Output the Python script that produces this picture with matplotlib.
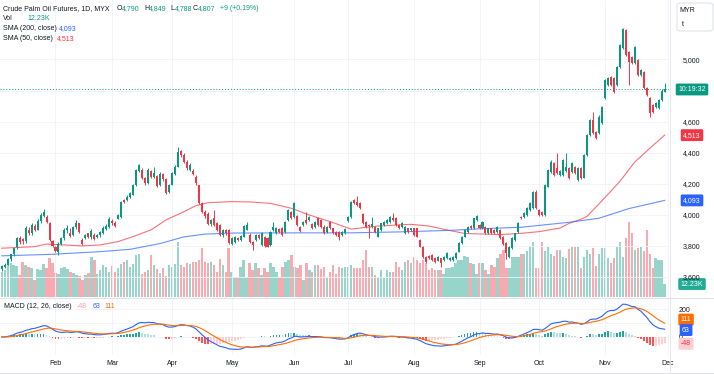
import numpy as np
import pandas as pd
import matplotlib
matplotlib.use("Agg")
import matplotlib.pyplot as plt
from matplotlib.transforms import blended_transform_factory
from matplotlib.patches import FancyBboxPatch
from matplotlib.lines import Line2D

plt.rcParams['font.family'] = ['Liberation Sans', 'DejaVu Sans']

# Bursa Malaysia trading calendar 2024 (visible window)
holidays = ['2024-01-25', '2024-02-01', '2024-02-12', '2024-03-28', '2024-04-10',
            '2024-04-11', '2024-05-01', '2024-05-22', '2024-06-03', '2024-06-17',
            '2024-07-08', '2024-09-16', '2024-10-31']

opens = [3650, 3665, 3680, 3715, 3745, 3790, 3850, 3845, 3830, 3905,
         3880, 3930, 3905, 3960, 3995, 3985, 3950, 3830, 3790, 3760,
         3815, 3850, 3900, 3885, 3870, 3920, 3945, 3840, 3850, 3880,
         3855, 3870, 3855, 3870, 3880, 3910, 3920, 3960,
         3946, 3975, 3985, 4096, 4096, 4117, 4130, 4192, 4285, 4289,
         4235, 4203, 4280, 4246, 4250, 4190, 4260, 4232, 4150, 4195,
         4262, 4310, 4410, 4385, 4342, 4290, 4280, 4246, 4190, 4074,
         4020, 4005, 3938, 3978, 3946, 3935, 3870, 3900, 3903, 3815,
         3827, 3849, 3838, 3860, 3905, 3870, 3827, 3838, 3870, 3806,
         3860, 3849, 3806, 3900, 3881, 3908, 3913, 3892, 3967, 4020,
         3988, 3990, 3924, 3935, 3967, 3967, 3940, 3924, 3978, 3967,
         3924, 3892, 3956, 3913, 3892, 3892, 3870, 3885, 3960,
         3988, 4096, 4085, 4074, 4005, 3956, 3935, 3924, 3924, 3860,
         3903, 3935, 3946, 3956, 3978, 3978, 3935, 3924, 3881, 3913,
         3903, 3913, 3913, 3838, 3791, 3731, 3735, 3742, 3720, 3705,
         3720, 3709, 3720, 3709, 3709, 3720, 3763, 3817,
         3860, 3892, 3928, 3913, 3965, 3935, 3913, 3924, 3881, 3913,
         3903, 3892, 3903, 3860, 3817, 3731, 3785, 3838, 3892, 3988,
         3988, 3999, 4031, 4042, 4149,
         4031, 4020, 3999, 4181, 4278, 4332, 4300, 4257, 4257, 4280,
         4300, 4278, 4310, 4224, 4300, 4240, 4385, 4514, 4611, 4535, 4525, 4589,
         4750, 4836, 4889, 4879, 4836, 4954, 5072, 5190, 5050, 5018, 4976,
         4997, 4900, 4921, 4815, 4750, 4707, 4696, 4686, 4739, 4790]

highs = [3680, 3690, 3725, 3750, 3795, 3860, 3865, 3850, 3930, 3920,
         3945, 3940, 3970, 4010, 4035, 4000, 3955, 3835, 3800, 3825,
         3860, 3915, 3935, 3915, 3930, 3965, 3950, 3850, 3875, 3885,
         3910, 3880, 3875, 3895, 3925, 3940, 3985, 3975,
         3960, 4005, 4090, 4102, 4125, 4148, 4200, 4295, 4330, 4300,
         4245, 4300, 4290, 4310, 4258, 4275, 4270, 4240, 4200, 4275,
         4320, 4439, 4420, 4395, 4350, 4335, 4295, 4255, 4195, 4080,
         4030, 4015, 3975, 4031, 3955, 3940, 3910, 3910, 3910, 3855,
         3866, 3856, 3870, 3935, 3956, 3880, 3832, 3878, 3876, 3888,
         3866, 3855, 3898, 3956, 3920, 3912, 3920, 3962, 4040, 4025,
         4085, 4000, 3930, 3962, 4020, 3995, 3946, 3962, 3985, 3972,
         3935, 3930, 3962, 3918, 3898, 3895, 3898, 3918, 3990,
         4090, 4100, 4121, 4080, 4010, 3962, 3940, 3988, 3930, 3918,
         3950, 3962, 3972, 3995, 4014, 3985, 3940, 3952, 3930, 3918,
         3918, 3918, 3918, 3845, 3798, 3738, 3742, 3748, 3726, 3733,
         3725, 3737, 3758, 3730, 3736, 3758, 3822, 3866,
         3908, 3930, 3935, 3982, 3999, 3940, 3962, 3930, 3918, 3918,
         3908, 3930, 3908, 3865, 3822, 3800, 3855, 3886, 3952, 3995,
         4015, 4048, 4080, 4155, 4160,
         4040, 4025, 4200, 4295, 4350, 4338, 4396, 4290, 4360, 4396,
         4306, 4338, 4316, 4306, 4306, 4392, 4520, 4618, 4664, 4540, 4640, 4702,
         4875, 4886, 4895, 4885, 4960, 5100, 5201, 5196, 5056, 5024, 5088,
         5003, 4938, 4927, 4820, 4756, 4712, 4724, 4745, 4810, 4849]

lows = [3640, 3655, 3675, 3705, 3735, 3780, 3815, 3815, 3820, 3870,
        3870, 3895, 3900, 3950, 3985, 3950, 3830, 3790, 3760, 3740,
        3805, 3840, 3885, 3855, 3865, 3910, 3880, 3805, 3845, 3850,
        3845, 3835, 3850, 3860, 3875, 3905, 3915, 3935,
        3920, 3970, 3978, 4075, 4088, 4110, 4125, 4185, 4275, 4228,
        4195, 4198, 4240, 4240, 4178, 4185, 4220, 4132, 4140, 4190,
        4255, 4305, 4375, 4335, 4290, 4280, 4255, 4195, 4068, 4010,
        3980, 3932, 3930, 3928, 3895, 3865, 3860, 3868, 3812, 3805,
        3820, 3832, 3833, 3855, 3900, 3820, 3774, 3830, 3842, 3800,
        3795, 3790, 3800, 3895, 3875, 3885, 3865, 3885, 3960, 3970,
        3982, 3930, 3890, 3928, 3940, 3960, 3908, 3918, 3930, 3918,
        3875, 3885, 3908, 3875, 3865, 3838, 3865, 3878, 3955,
        3982, 4068, 4058, 4035, 3940, 3918, 3849, 3918, 3885, 3855,
        3898, 3930, 3940, 3950, 3962, 3930, 3908, 3918, 3875, 3886,
        3898, 3865, 3855, 3790, 3720, 3692, 3714, 3704, 3692, 3700,
        3665, 3704, 3715, 3704, 3704, 3715, 3758, 3812,
        3855, 3886, 3908, 3908, 3960, 3908, 3908, 3876, 3876, 3876,
        3878, 3886, 3845, 3806, 3714, 3725, 3780, 3832, 3886, 3972,
        3982, 3994, 4026, 4036, 4036,
        3994, 3992, 3994, 4176, 4272, 4250, 4260, 4250, 4250, 4274,
        4228, 4272, 4260, 4218, 4228, 4235, 4380, 4508, 4518, 4486, 4518, 4583,
        4744, 4830, 4830, 4786, 4830, 4948, 5066, 5022, 4836, 4970, 4970,
        4894, 4894, 4809, 4765, 4632, 4658, 4690, 4680, 4733, 4788]

closes = [3670, 3680, 3715, 3745, 3785, 3850, 3825, 3830, 3915, 3880,
          3935, 3905, 3960, 4000, 4020, 3955, 3840, 3800, 3770, 3815,
          3850, 3905, 3915, 3865, 3920, 3945, 3890, 3815, 3870, 3860,
          3895, 3845, 3870, 3890, 3915, 3930, 3970, 3945,
          3925, 3999, 4080, 4085, 4117, 4139, 4192, 4289, 4321, 4235,
          4203, 4289, 4246, 4270, 4185, 4265, 4228, 4140, 4192, 4267,
          4310, 4407, 4385, 4342, 4300, 4321, 4262, 4203, 4074, 4020,
          3990, 3940, 3967, 3935, 3903, 3870, 3903, 3880, 3817, 3849,
          3860, 3838, 3864, 3928, 3935, 3827, 3806, 3870, 3849, 3881,
          3800, 3795, 3892, 3920, 3913, 3890, 3870, 3956, 4031, 3978,
          4074, 3935, 3895, 3956, 3946, 3988, 3913, 3956, 3935, 3924,
          3881, 3924, 3913, 3881, 3870, 3860, 3892, 3910, 3985,
          4085, 4074, 4063, 4042, 3946, 3924, 3925, 3940, 3892, 3913,
          3946, 3956, 3967, 3988, 3967, 3935, 3913, 3946, 3924, 3892,
          3913, 3870, 3860, 3795, 3727, 3699, 3720, 3709, 3699, 3727,
          3688, 3731, 3752, 3725, 3731, 3752, 3817, 3860,
          3903, 3924, 3913, 3978, 3990, 3913, 3956, 3881, 3913, 3881,
          3883, 3924, 3849, 3812, 3752, 3795, 3849, 3881, 3946, 3978,
          4010, 4042, 4074, 4149, 4042,
          3999, 3999, 4192, 4289, 4342, 4257, 4267, 4280, 4353, 4310,
          4235, 4332, 4267, 4300, 4235, 4385, 4514, 4611, 4525, 4493, 4632, 4696,
          4868, 4879, 4836, 4793, 4954, 5093, 5194, 5029, 4986, 4976, 5082,
          4900, 4932, 4815, 4771, 4654, 4664, 4718, 4739, 4798, 4807]

# volume in thousands of lots
volumes = [24, 25, 31, 32, 30, 29, 21, 33, 30, 28,
           27, 16, 26, 25, 31, 27, 37, 32, 23, 22,
           27, 28, 26, 24, 23, 21, 20, 16, 21, 23,
           38, 35, 22, 25, 30, 28, 24, 29, 24, 27,
           31, 33, 35, 28, 31, 40, 41, 22, 24, 25,
           40, 30, 26, 23, 27, 20, 30, 28, 31, 52,
           30, 28, 32, 31, 33, 33, 35, 46, 33, 32,
           33, 30, 24, 36, 30, 24, 46, 24, 19, 19,
           28, 35, 19, 32, 25, 32, 27, 21, 27, 24,
           32, 28, 24, 19, 28, 33, 35, 40, 28, 27,
           30, 16, 32, 25, 24, 30, 30, 26, 28, 19,
           24, 30, 22, 28, 27, 28, 28, 30, 27, 27,
           27, 35, 44, 28, 28, 21, 19, 25, 18, 25,
           24, 24, 33, 28, 25, 33, 35, 32, 38, 35,
           32, 35, 32, 25, 27, 25, 25, 25, 22, 27,
           27, 28, 32, 35, 35, 39, 38, 32, 31, 22,
           32, 32, 25, 22, 30, 28, 37, 41, 44, 27,
           27, 38, 38, 38, 41, 41, 43, 48, 52, 27,
           27, 52, 43, 47, 41, 39, 44, 44, 38, 37,
           45, 47, 47, 47, 27, 38, 44, 41, 46, 29,
           41, 46, 46, 36.5, 32, 36.5, 47.5, 52, 38, 56,
           71, 60, 44, 46, 47.5, 43, 63, 41, 27, 36.5,
           35, 35, 12.23]

# moving averages (bar index -> value)
sma200_idx = [0, 17, 33, 43, 53, 61, 68, 78, 100, 117, 133, 150, 160, 174, 190, 200, 210, 222]
sma200_val = [3736, 3746, 3763, 3778, 3815, 3858, 3876, 3883, 3884, 3884, 3890, 3900, 3910,
              3920, 3952, 3978, 4040, 4093]
sma50_idx = [0, 11, 15, 27, 33, 39, 44, 50, 55, 61, 65, 69, 77, 83, 90, 97, 103, 110, 117,
             126, 137, 143, 149, 155, 167, 174, 180, 187, 190, 194, 196, 201, 207, 212, 218, 222]
sma50_val = [3785, 3795, 3812, 3800, 3806, 3828, 3860, 3903, 3967, 4020, 4059, 4078, 4085,
             4083, 4074, 4042, 3999, 3956, 3908, 3928, 3939, 3928, 3903, 3880, 3873, 3881,
             3892, 3915, 3945, 3972, 3990, 4090, 4215, 4340, 4445, 4513]

# last MACD readings shown by the chart
macd_last = 63
signal_last = 111
hist_last = -48

price_ticks = [3600, 3800, 4000, 4200, 4400, 4600, 5000]
macd_ticks = [0, 200]

UP = '#089981'
DOWN = '#f23645'
BLUE = '#2962ff'
ORANGE = '#ff6d00'
TXT = '#131722'
GRID = '#f0f3fa'
BORDER = '#e0e3eb'

W, H = 714, 374

cal = pd.offsets.CustomBusinessDay(holidays=holidays)
dates = pd.date_range('2024-01-05', '2024-11-29', freq=cal)
o = np.array(opens, float)
h = np.array(highs, float)
l = np.array(lows, float)
c = np.array(closes, float)
v = np.array(volumes, float)
x = np.arange(len(c))

# month ticks at first trading day of each month
month_pos, month_lab = [], []
for i in range(1, len(dates)):
    if dates[i].month != dates[i - 1].month:
        month_pos.append(i)
        month_lab.append(dates[i].strftime('%b'))
month_pos.append(len(dates))
month_lab.append('Dec')


def frac(x0, y0, x1, y1):
    return [x0 / W, 1 - y1 / H, (x1 - x0) / W, (y1 - y0) / H]


fig = plt.figure(figsize=(W / 100, H / 100), dpi=100)
ax = fig.add_axes(frac(0, 0, 669, 297))
axv = ax.twinx()
axm = fig.add_axes(frac(0, 298, 669, 355), sharex=ax)
ax.set_zorder(axv.get_zorder() + 1)
ax.patch.set_visible(False)

up = c >= o
col = np.where(up, UP, DOWN)
vcol = [(8 / 255, 153 / 255, 129 / 255, 0.42) if u else (242 / 255, 54 / 255, 69 / 255, 0.42) for u in up]

# volume
axv.bar(x, v, width=0.8, color=vcol, linewidth=0)
axv.set_ylim(0, 280)
axv.set_yticks([])
axv.tick_params(right=False, labelright=False)

# candles
ax.vlines(x, l, h, colors=col, linewidth=0.7, zorder=3)
ax.bar(x, np.maximum(np.abs(c - o), 2), bottom=np.minimum(o, c), width=0.68,
       color=col, linewidth=0, zorder=4)

ax.plot(sma50_idx, sma50_val, color=DOWN, lw=0.8, alpha=0.7, zorder=2)
ax.plot(sma200_idx, sma200_val, color=BLUE, lw=0.8, alpha=0.7, zorder=2)
ax.axhline(c[-1], color=UP, lw=0.7, ls=(0, (1, 2)), zorder=1)

ax.set_xlim(-0.586, 223.46)
ax.set_ylim(3471, 5383)
ax.set_yticks(price_ticks)
ax.set_yticklabels([f'{t:,}' for t in price_ticks])
ax.yaxis.tick_right()
ax.tick_params(axis='y', length=0, pad=10, labelsize=5, labelcolor=TXT)
ax.tick_params(axis='x', length=0, labelbottom=False)
ax.set_xticks(month_pos)
ax.grid(True, color=GRID, lw=0.6)
ax.axhline(4800, color=GRID, lw=0.6, zorder=0)
ax.set_axisbelow(True)
for a in (ax, axv, axm):
    for s in a.spines.values():
        s.set_visible(False)

# MACD
cs = pd.Series(c)
macd = cs.ewm(span=12, adjust=False).mean() - cs.ewm(span=26, adjust=False).mean()
signal = macd.ewm(span=9, adjust=False).mean()
hist = (macd - signal).values
hcol = []
for i, hv in enumerate(hist):
    prev = hist[i - 1] if i > 0 else 0
    if hv >= 0:
        hcol.append('#26a69a' if hv > prev else '#b2dfdb')
    else:
        hcol.append('#ff5252' if hv < prev else '#ffcdd2')
axm.bar(x, hist, width=0.6, color=hcol, linewidth=0)
axm.plot(x, macd, color=BLUE, lw=0.8)
axm.plot(x, signal, color=ORANGE, lw=0.8)
axm.set_ylim(-128.6, 278.6)
axm.set_yticks(macd_ticks)
axm.yaxis.tick_right()
axm.tick_params(axis='y', length=0, pad=7, labelsize=5, labelcolor=TXT)
axm.set_xticks(month_pos)
axm.set_xticklabels(month_lab)
axm.tick_params(axis='x', length=0, pad=3.5, labelsize=5, labelcolor=TXT)
axm.grid(True, color=GRID, lw=0.6)
axm.axhline(100, color=GRID, lw=0.6, zorder=0)
axm.set_axisbelow(True)


# price-scale labels
def tag(a, yval, text, fc, tc='white', xa=1.0344):
    tr = blended_transform_factory(a.transAxes, a.transData)
    a.text(xa, yval, text, transform=tr, ha='center', va='center', fontsize=5,
           color=tc, clip_on=False, zorder=20,
           bbox=dict(boxstyle='round,pad=0.35,rounding_size=0.2', fc=fc, ec='none'))


tag(ax, c[-1], '10:19:32', UP)
tag(ax, sma50_val[-1], f'{sma50_val[-1]:,}', DOWN)
tag(ax, sma200_val[-1], f'{sma200_val[-1]:,}', BLUE)
tag(axv, v[-1], f'{v[-1]:.2f}K', '#22ab94')

# keep the two MACD line labels from stacking on top of each other
box_units = 10.5 / 57 * (278.6 + 128.6)
sig_y, macd_y = signal_last, macd_last
if sig_y - macd_y < box_units:
    mid = (sig_y + macd_y) / 2
    sig_y, macd_y = mid + box_units / 2, mid - box_units / 2
tag(axm, sig_y, f'{signal_last}', ORANGE, xa=1.0255)
tag(axm, macd_y, f'{macd_last}', BLUE, xa=1.0255)
tag(axm, hist_last, f'{hist_last}', '#ffcdd2', tc='#e53935', xa=1.0255)


# legend text rows
def put(px, py, s, color=TXT):
    fig.text(px / W, 1 - py / H, s, fontsize=5, color=color, va='center', ha='left')


put(3, 9, 'Crude Palm Oil Futures, 1D, MYX')
for lab, val, px in [('O', o[-1], 117), ('H', h[-1], 144), ('L', l[-1], 170), ('C', c[-1], 193)]:
    put(px, 9, lab)
    put(px + 5.2, 9, f'{val:,.0f}', UP)
chg = c[-1] - c[-2]
put(220, 9, f'+{chg:.0f} (+{chg / c[-2] * 100:.2f}%)', UP)
put(3, 19, 'Vol')
put(27, 19, f'{v[-1]:.2f}K', UP)
put(3, 29, 'SMA (200, close)')
put(59, 29, f'{sma200_val[-1]:,}', BLUE)
put(3, 39, 'SMA (50, close)')
put(57, 39, f'{sma50_val[-1]:,}', DOWN)
put(3.5, 307, 'MACD (12, 26, close)')
put(77, 307, f'{hist_last}', '#f5a3a8')
put(92.5, 307, f'{macd_last}', BLUE)
put(104.5, 307, f'{signal_last}', ORANGE)

# currency box
fig.add_artist(FancyBboxPatch((677 / W, 1 - 31 / H), 36 / W, 28 / H,
                              boxstyle='round,pad=0,rounding_size=0.006',
                              transform=fig.transFigure, fc='white', ec=BORDER, lw=0.8))
put(679.5, 10, 'MYR')
put(682, 24, 't')

# pane borders
for yy in (297.5, 372.5):
    fig.add_artist(Line2D([0, 1], [1 - yy / H] * 2, color=BORDER, lw=0.8))
fig.add_artist(Line2D([669.5 / W] * 2, [1 - 372 / H, 1], color=BORDER, lw=0.6))

fig.savefig('out.png', dpi=100, facecolor='white')
